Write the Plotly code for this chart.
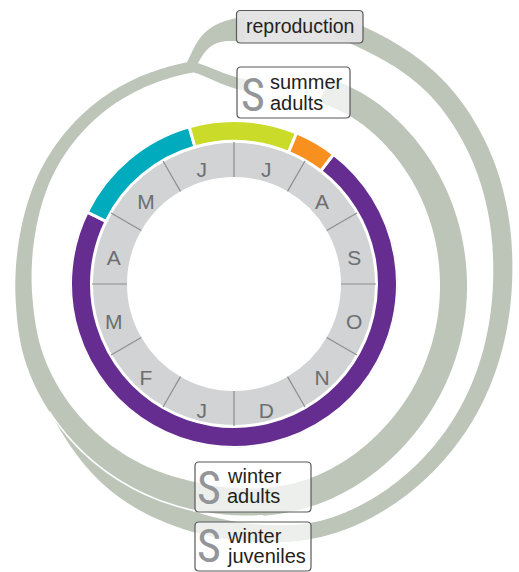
import numpy as np
import plotly.graph_objects as go

# ---------------- data ----------------
months = ["J", "F", "M", "A", "M", "J", "J", "A", "S", "O", "N", "D"]
phase_colors = ["#662D91", "#00ABBD", "#CADB2A", "#F7901E"]
phase_start = [7.25, 3.87, 5.47, 6.75]     # months since 1 January
phase_end = [15.87, 5.47, 6.75, 7.25]

stage_big = ["", "S", "S", "S"]
stage_line1 = ["reproduction", "summer", "winter", "winter"]
stage_line2 = ["", "adults", "adults", "juveniles"]

# ---------------- geometry / style ----------------
W, H = 519, 572
CX, CY = 234, 284
R_MONTH_IN, R_MONTH_OUT = 107, 142
R_PHASE_IN, R_PHASE_OUT = 142.5, 163.5
R_MAX = 164
LABEL_R, LABEL_DY = 124.5, 8
BAND = "#BDC5B9"
FONT = "Liberation Sans, Arial, sans-serif"


def m2deg(m):
    return (180 + 30 * m) % 360


def smooth(xs, ys, xq):
    xs = np.asarray(xs, float)
    ys = np.asarray(ys, float)
    n = len(xs)
    m = np.zeros(n)
    for i in range(n):
        if i == 0:
            m[i] = (ys[1] - ys[0]) / (xs[1] - xs[0])
        elif i == n - 1:
            m[i] = (ys[-1] - ys[-2]) / (xs[-1] - xs[-2])
        else:
            m[i] = (ys[i + 1] - ys[i - 1]) / (xs[i + 1] - xs[i - 1])
    idx = np.clip(np.searchsorted(xs, xq) - 1, 0, n - 2)
    x0, x1 = xs[idx], xs[idx + 1]
    h = x1 - x0
    t = (xq - x0) / h
    h00 = 2 * t**3 - 3 * t**2 + 1
    h10 = t**3 - 2 * t**2 + t
    h01 = -2 * t**3 + 3 * t**2
    h11 = t**3 - t**2
    return h00 * ys[idx] + h10 * h * m[idx] + h01 * ys[idx + 1] + h11 * h * m[idx + 1]


def polar_xy(th, r):
    a = np.radians(th)
    return CX + r * np.sin(a), CY - r * np.cos(a)


def spiral_band(ctrl, n=400):
    th_c, r_c, w_c = zip(*ctrl)
    th = np.linspace(th_c[0], th_c[-1], n)
    r = smooth(th_c, r_c, th)
    w = smooth(th_c, w_c, th)
    xo, yo = polar_xy(th, r + w / 2)
    xi, yi = polar_xy(th, r - w / 2)
    x = np.concatenate([xo, xi[::-1], xo[:1]])
    y = np.concatenate([yo, yi[::-1], yo[:1]])
    return x, y, th, r, w


def bezier_band(P, w0, w1, n=120):
    P = np.asarray(P, float)
    t = np.linspace(0, 1, n)[:, None]
    pts = ((1 - t) ** 3) * P[0] + 3 * ((1 - t) ** 2) * t * P[1] + 3 * (1 - t) * t**2 * P[2] + t**3 * P[3]
    d = 3 * ((1 - t) ** 2) * (P[1] - P[0]) + 6 * (1 - t) * t * (P[2] - P[1]) + 3 * t**2 * (P[3] - P[2])
    nrm = np.stack([-d[:, 1], d[:, 0]], axis=1)
    nrm /= np.linalg.norm(nrm, axis=1, keepdims=True)
    w = (w0 + (w1 - w0) * t[:, 0] ** 2)[:, None]
    a = pts + nrm * w / 2
    b = pts - nrm * w / 2
    x = np.concatenate([a[:, 0], b[::-1, 0], a[:1, 0]])
    y = np.concatenate([a[:, 1], b[::-1, 1], a[:1, 1]])
    return x, y


# flow geometry (theta clockwise from top, radius, width)
inner_loop = [(25, 214, 26), (40, 218, 26), (90, 219.5, 27), (130, 221, 27), (160, 222, 27),
              (190, 216, 28), (210, 215, 25), (235, 214, 21), (250, 213, 19), (265, 210.5, 17),
              (282, 212, 15), (305, 219, 13), (325, 222, 12), (349, 221, 11)]
outer_loop = [(22, 277, 21), (28, 278, 21), (45, 282, 20), (60, 279, 20), (90, 268.5, 19),
              (125, 266, 17), (150, 263, 16), (162, 259, 16), (175, 250, 18), (190, 241, 20),
              (210, 232, 18.5), (235, 216, 16), (255, 212, 14)]

fig = go.Figure()

x, y, *_ = spiral_band(outer_loop)
fig.add_trace(go.Scatter(x=x, y=y, fill="toself", fillcolor=BAND, mode="lines",
                         line=dict(width=0, color=BAND, simplify=False), hoverinfo="skip", showlegend=False))
x, y, th, r, w = spiral_band(inner_loop)
fig.add_trace(go.Scatter(x=x, y=y, fill="toself", fillcolor=BAND, mode="lines",
                         line=dict(width=0, color=BAND, simplify=False), hoverinfo="skip", showlegend=False))
sel = (th >= 172) & (th <= 236)
lx, ly = polar_xy(th[sel], r[sel] + w[sel] / 2)
fig.add_trace(go.Scatter(x=lx, y=ly, mode="lines", line=dict(width=1.6, color="white", simplify=False),
                         hoverinfo="skip", showlegend=False))
# branches at the top split
for P, w0, w1 in [([(190, 67), (200, 50), (204, 29), (245, 29.5)], 10, 25),
                  ([(190, 67), (205, 68), (220, 81), (250, 86)], 10, 12)]:
    x, y = bezier_band(P, w0, w1)
    fig.add_trace(go.Scatter(x=x, y=y, fill="toself", fillcolor=BAND, mode="lines",
                             line=dict(width=0, color=BAND, simplify=False),
                             hoverinfo="skip", showlegend=False))

# month ring
fig.add_trace(go.Barpolar(theta=[m2deg(i + 0.5) for i in range(12)],
                          r=[R_MONTH_OUT - R_MONTH_IN] * 12, base=[R_MONTH_IN] * 12,
                          width=[30] * 12, marker=dict(color="#D1D3D4", line=dict(width=0)),
                          hoverinfo="skip", showlegend=False))
# phase ring
fig.add_trace(go.Barpolar(theta=[m2deg((s + e) / 2) for s, e in zip(phase_start, phase_end)],
                          r=[R_PHASE_OUT - R_PHASE_IN] * 4, base=[R_PHASE_IN] * 4,
                          width=[30 * (e - s) for s, e in zip(phase_start, phase_end)],
                          marker=dict(color=phase_colors, line=dict(width=3, color="white")),
                          hoverinfo="skip", showlegend=False))
# month separators
sr, st = [], []
for k in range(12):
    sr += [R_MONTH_IN, R_MONTH_OUT, None]
    st += [m2deg(k), m2deg(k), None]
fig.add_trace(go.Scatterpolar(r=sr, theta=st, mode="lines", line=dict(color="#8C8E90", width=1.2),
                              hoverinfo="skip", showlegend=False))
# month labels
lr, lt = [], []
for i in range(12):
    a = np.radians(m2deg(i + 0.5))
    dx = LABEL_R * np.sin(a)
    dy = -LABEL_R * np.cos(a) + LABEL_DY
    lr.append(float(np.hypot(dx, dy)))
    lt.append(float(np.degrees(np.arctan2(dx, -dy)) % 360))
fig.add_trace(go.Scatterpolar(r=lr, theta=lt, mode="text", text=months,
                              textfont=dict(size=21, color="#6D6E70", family=FONT),
                              textposition="middle center", hoverinfo="skip", showlegend=False))


def rrect(x0, y0, x1, y1, rad=4):
    return (f"M{x0 + rad},{y0} L{x1 - rad},{y0} Q{x1},{y0} {x1},{y0 + rad} "
            f"L{x1},{y1 - rad} Q{x1},{y1} {x1 - rad},{y1} L{x0 + rad},{y1} "
            f"Q{x0},{y1} {x0},{y1 - rad} L{x0},{y0 + rad} Q{x0},{y0} {x0 + rad},{y0} Z")


boxes = [(236.5, 10.5, 363, 43), (237, 67, 350, 118), (195, 462, 311, 512), (195, 522, 311, 571)]
box_fill = ["rgba(226,227,225,0.95)", "rgba(255,255,255,0.72)",
            "rgba(255,255,255,0.72)", "rgba(255,255,255,0.72)"]
shapes = []
for (x0, y0, x1, y1), fc in zip(boxes, box_fill):
    shapes.append(dict(type="path", path=rrect(x0, y0, x1, y1), xref="x", yref="y",
                       fillcolor=fc, line=dict(color="#58595B", width=1.2), layer="above"))

annotations = []
# reproduction
annotations.append(dict(x=300, y=26, text=stage_line1[0], showarrow=False, xref="x", yref="y",
                        xanchor="center", yanchor="middle",
                        font=dict(size=19.5, color="#231F20", family=FONT)))
big_pos = [None, (253, 95), (209, 488), (209, 546)]
line_pos = [None, (268, 82, 103), (225, 476, 496), (225, 535.5, 555.5)]
for i in range(1, 4):
    bx, by = big_pos[i]
    annotations.append(dict(x=bx, y=by, text=stage_big[i], showarrow=False, xref="x", yref="y",
                            xanchor="center", yanchor="middle",
                            font=dict(size=46, color="#939598",
                                      family="Liberation Sans Narrow, Roboto Condensed, Roboto, sans-serif")))
    tx, y1, y2 = line_pos[i]
    for txt, ty in ((stage_line1[i], y1), (stage_line2[i], y2)):
        annotations.append(dict(x=tx, y=ty, text=txt, showarrow=False, xref="x", yref="y",
                                xanchor="left", yanchor="middle",
                                font=dict(size=20, color="#231F20", family=FONT)))

R = R_MAX
fig.update_layout(
    width=W, height=H, autosize=False,
    margin=dict(l=0, r=0, t=0, b=0, pad=0),
    paper_bgcolor="white", plot_bgcolor="rgba(0,0,0,0)",
    showlegend=False,
    xaxis=dict(range=[0, W], visible=False, domain=[0, 1], fixedrange=True),
    yaxis=dict(range=[H, 0], visible=False, domain=[0, 1], fixedrange=True),
    polar=dict(
        domain=dict(x=[(CX - R) / W, (CX + R) / W], y=[(H - CY - R) / H, (H - CY + R) / H]),
        bgcolor="rgba(0,0,0,0)", bargap=0, hole=0,
        radialaxis=dict(range=[0, R], visible=False, showgrid=False),
        angularaxis=dict(rotation=90, direction="clockwise", visible=False, showgrid=False),
    ),
    shapes=shapes,
    annotations=annotations,
)

fig.write_html("out.html", config={"displayModeBar": False},
               post_script="document.body.style.margin='0';document.body.style.overflow='hidden';")
